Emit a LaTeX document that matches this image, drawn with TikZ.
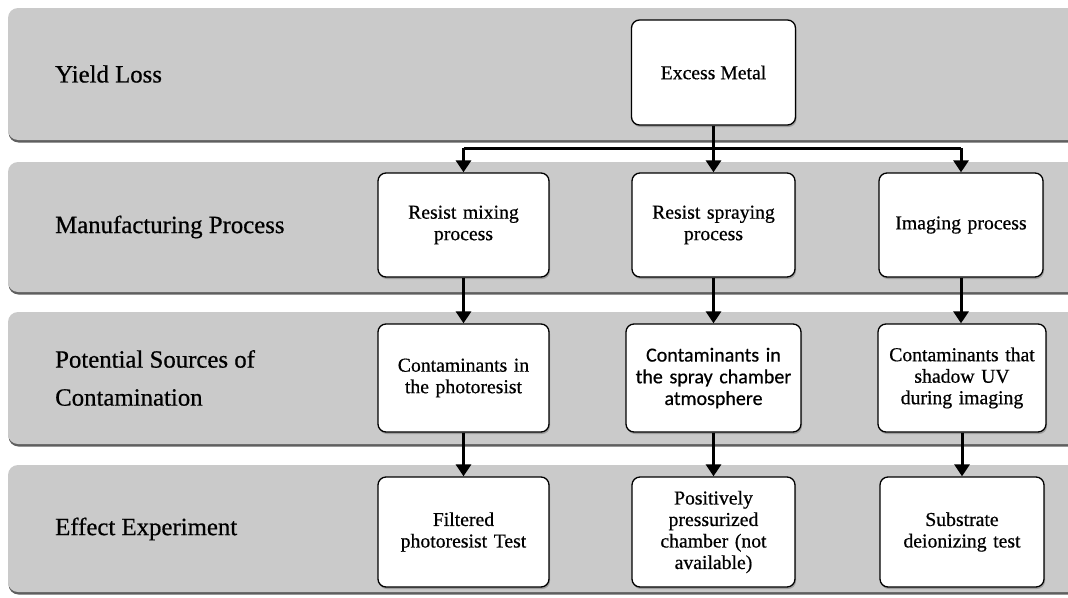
\documentclass[tikz,border=0pt]{standalone}
\usepackage{fontspec}
\setmainfont{Liberation Serif}[FakeBold=0.6]
\newfontfamily\sansf{Carlito}[FakeBold=0.6]
\usetikzlibrary{arrows.meta,shadows}
\definecolor{bandgray}{RGB}{202,202,202}
\definecolor{bandshadow}{RGB}{95,95,95}
\tikzset{
  band/.style={fill=bandgray, draw=none, rounded corners=10pt},
  bandsh/.style={fill=bandshadow, draw=none, rounded corners=10pt},
  bandlabel/.style={anchor=west, font=\fontsize{24.8}{38}\selectfont, align=left, inner sep=0pt},
  box/.style={draw=black, line width=1.3pt, fill=white, rounded corners=8pt,
    align=center, inner sep=2pt, font=\fontsize{19.7}{21.5}\selectfont,
    drop shadow={shadow xshift=1pt, shadow yshift=-2pt, fill=black!55}},
  conn/.style={line width=3pt, draw=black},
  arr/.style={conn, -{Triangle[width=15pt,length=12pt]}},
}
\begin{document}
\begin{tikzpicture}[x=1pt,y=-1pt]
\useasboundingbox (0,0) rectangle (1068,597);
\clip (0,0) rectangle (1068,597);
% bands
\foreach \t/\b in {8/140, 162/292, 312/444, 465/592}{
  \fill[bandsh] (8.5,\t+2.5) rectangle (1090,\b+2.5);
  \fill[band] (8,\t) rectangle (1090,\b);
}
\node[bandlabel] (l1) at (55,74) {Yield Loss};
\node[bandlabel] (l2) at (55,227) {Manufacturing Process};
\node[bandlabel] (l3) at (55,378) {Potential Sources of\\Contamination};
\node[bandlabel] (l4) at (55,529) {Effect Experiment};
% boxes
\node[box, minimum width=164pt, minimum height=105pt] (em) at (713.5,72.5) {Excess Metal};
\node[box, minimum width=171pt, minimum height=104pt, text width=160pt] (mix) at (463.5,225) {Resist mixing\\process};
\node[box, minimum width=163pt, minimum height=104pt, text width=155pt] (spray) at (713.5,225) {Resist spraying\\process};
\node[box, minimum width=164pt, minimum height=104pt, text width=155pt] (img) at (961,225) {Imaging process};
\node[box, minimum width=171pt, minimum height=108pt, text width=160pt] (c1) at (463.5,378) {Contaminants in\\the photoresist};
\node[box, minimum width=175pt, minimum height=108pt, text width=165pt, font=\sansf\fontsize{20}{21.7}\selectfont] (c2) at (713.5,378) {Contaminants in\\the spray chamber\\atmosphere};
\node[box, minimum width=168pt, minimum height=108pt, text width=160pt] (c3) at (962,378) {Contaminants that\\shadow UV\\during imaging};
\node[box, minimum width=171pt, minimum height=110pt, text width=160pt] (f1) at (463.5,532) {Filtered\\photoresist Test};
\node[box, minimum width=163pt, minimum height=110pt, text width=155pt] (f2) at (713.5,532) {Positively\\pressurized\\chamber (not\\available)};
\node[box, minimum width=164pt, minimum height=110pt, text width=155pt] (f3) at (962,532) {Substrate\\deionizing test};
% connectors
\coordinate (split) at (713.5,148);
\draw[conn] (mix.north |- split) -- (img.north |- split);
\draw[arr] (em.south) -- (spray.north);
\draw[arr] (mix.north |- split) -- (mix.north);
\draw[arr] (img.north |- split) -- (img.north);
\draw[arr] (mix.south) -- (c1.north);
\draw[arr] (spray.south) -- (c2.north);
\draw[arr] (img.south) -- (img.south |- c3.north);
\draw[arr] (c1.south) -- (f1.north);
\draw[arr] (c2.south) -- (f2.north);
\draw[arr] (c3.south) -- (f3.north);
\end{tikzpicture}
\end{document}
